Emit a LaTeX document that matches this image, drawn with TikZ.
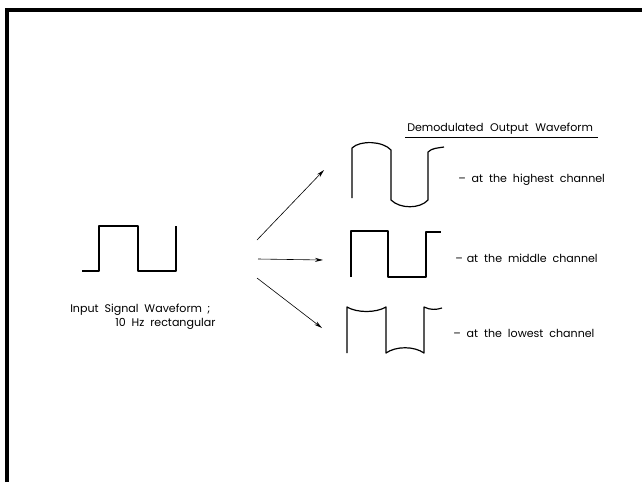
\documentclass[tikz,border=0pt]{standalone}
\usepackage{fontspec}
\setmainfont{Poppins}
\usetikzlibrary{arrows.meta}

\begin{document}
\begin{tikzpicture}[x=0.75pt,y=-0.75pt,
  wave/.style={line width=0.9pt, line join=round},
  lbl/.style={font=\fontsize{8.3}{10}\selectfont, inner sep=0pt, anchor=west},
  feed/.style={-{Stealth[length=6pt,width=3pt]}, line width=0.45pt}]
\useasboundingbox (0,0) rectangle (642,482);
\draw[line width=2.3pt] (7,482) -- (7,10) -- (642,10);

% input signal
\draw[wave] (82,271) -- (99,271) -- (99,226) -- (138,226) -- (138,271) -- (176,271) -- (176,226);
\node[lbl] (inA) at (70,310) {Input \ Signal \ Waveform\hspace{4pt};};
\node[lbl] (inB) at (115,324) {10 \ Hz \ rectangular};

\coordinate (src1) at (257,240);
\coordinate (src2) at (258,259);
\coordinate (src3) at (257,278);
\coordinate (hi) at (324,170);
\coordinate (mid) at (323,260);
\coordinate (lo) at (322,328);
\draw[feed] (src1) -- (hi);
\draw[feed] (src2) -- (mid);
\draw[feed] (src3) -- (lo);

% output
\node[lbl] (title) at (407,129) {Demodulated\hspace{5pt}Output\hspace{5pt}Waveform};
\draw[line width=0.6pt] (405,137) -- (598,137);

% highest
\draw[wave] (352,198) -- (352,148) .. controls (360,140) and (383,141) .. (391,150)
  -- (391,200) .. controls (400,209) and (420,209) .. (428,200)
  -- (428,152) .. controls (432,148) and (438,148) .. (444,147);
\node[lbl] (hiTxt) at (458,180) {-- \ at \ the \ highest \ channel};

% middle
\draw[wave] (351,277) -- (351,231) -- (388,231) -- (388,277) -- (426,277) -- (426,232) -- (441,232);
\node[lbl] (midTxt) at (455,258) {--\hspace{3pt}at \ the \ middle \ channel};

% lowest
\draw[wave] (347,353) -- (347,307) .. controls (357,313) and (376,313) .. (386,307)
  -- (386,353) .. controls (396,346) and (414,346) .. (424,353)
  -- (424,307) .. controls (430,310) and (436,310) .. (442,308);
\node[lbl] (loTxt) at (453,333) {-- \ at \ the \ lowest \ channel};
\end{tikzpicture}
\end{document}
